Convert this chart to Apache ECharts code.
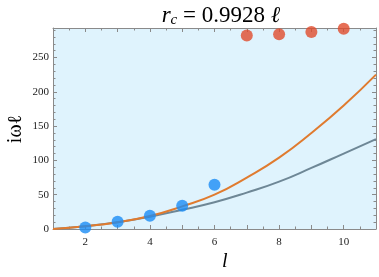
<!DOCTYPE html>
<html><head><meta charset="utf-8">
<script src="https://cdn.jsdelivr.net/npm/echarts@6/dist/echarts.min.js"></script>
<style>html,body{margin:0;padding:0;background:#fff}#c{width:379px;height:277px}</style>
</head><body><div id="c"></div>
<script>
const blueX = [2, 3, 4, 5, 6];
const blueY = [2.3, 10.5, 19.4, 34, 64.5];
const redX = [7, 8, 9, 10];
const redY = [282, 284, 287, 292];
const curveX = [1, 2, 3, 4, 5, 6, 7, 8, 9, 10, 11];
const orangeY = [0, 4, 10, 19, 33, 50, 75, 104, 140, 180, 225];
const grayY = [0, 4, 10, 18, 28, 39, 53, 69, 89, 110, 131];
const xTickLabels = [2, 4, 6, 8, 10];
const yTickLabels = [0, 50, 100, 150, 200, 250];

const serif = '"Liberation Serif", "DejaVu Serif", serif';
const frameColor = '#8a8a8a';
const zip = (xs, ys) => xs.map((x, i) => [x, ys[i]]);

function xAx(pos, show) {
  return {
    type: 'value', position: pos, min: 1, max: 11, interval: 1,
    axisLine: { show: true, onZero: false, lineStyle: { color: frameColor, width: 1 } },
    axisTick: { show: true, inside: true, length: 4, lineStyle: { color: frameColor } },
    minorTick: { show: true, splitNumber: 2, length: 2.5, lineStyle: { color: frameColor } },
    splitLine: { show: false },
    axisLabel: {
      show: show, color: '#222', fontFamily: serif, fontSize: 11, margin: 8,
      formatter: v => xTickLabels.includes(v) ? String(v) : ''
    }
  };
}
function yAx(pos, show) {
  return {
    type: 'value', position: pos, min: 0, max: 293, interval: 50,
    axisLine: { show: true, onZero: false, lineStyle: { color: frameColor, width: 1 } },
    axisTick: { show: true, inside: true, length: 4, lineStyle: { color: frameColor } },
    minorTick: { show: true, splitNumber: 5, length: 2.5, lineStyle: { color: frameColor } },
    splitLine: { show: false },
    axisLabel: {
      show: show, color: '#222', fontFamily: serif, fontSize: 11, margin: 4,
      formatter: v => yTickLabels.includes(v) ? String(v) : '', showMaxLabel: false
    }
  };
}

const chart = echarts.init(document.getElementById('c'), null, { renderer: 'canvas' });
const xa = [xAx('bottom', true), xAx('top', false)];
const ya = [yAx('left', true), yAx('right', false)];
chart.setOption({
  animation: false,
  backgroundColor: '#ffffff',
  title: {
    text: '{r|r}{c|c}{n| = 0.9928 }{r|ℓ}',
    left: 216, top: -1, textAlign: 'center',
    textStyle: {
      fontWeight: 'normal',
      rich: {
        r: { fontFamily: serif, fontStyle: 'italic', fontWeight: 'normal', fontSize: 23, color: '#000' },
        c: { fontFamily: serif, fontStyle: 'italic', fontWeight: 'normal', fontSize: 15, color: '#000', verticalAlign: 'bottom', padding: [9, 0, 0, 0] },
        n: { fontFamily: serif, fontWeight: 'normal', fontSize: 23, color: '#000' }
      }
    }
  },
  grid: { left: 53, right: 2, top: 28, bottom: 48, show: true, backgroundColor: '#dff3fd', borderWidth: 0 },
  xAxis: xa,
  yAxis: ya,
  graphic: [
    { type: 'text', left: 222, top: 252, style: { text: 'l', font: 'italic 20px ' + serif, fill: '#000' } },
    { type: 'text', x: 16, y: 129, rotation: Math.PI / 2, style: { text: 'iωℓ', font: '20px ' + serif, fill: '#000', align: 'center', verticalAlign: 'middle' } }
  ],
  series: [
    { type: 'line', data: zip(curveX, grayY), smooth: true, showSymbol: false, lineStyle: { color: '#6e8796', width: 2 }, z: 2 },
    { type: 'line', data: zip(curveX, orangeY), smooth: true, showSymbol: false, lineStyle: { color: '#e07b2f', width: 2 }, z: 3 },
    { type: 'scatter', data: zip(blueX, blueY), symbolSize: 12, itemStyle: { color: '#1a8cf5' }, z: 4 },
    { type: 'scatter', data: zip(redX, redY), symbolSize: 12, itemStyle: { color: '#e04b2c' }, z: 4 }
  ]
});
</script></body></html>
